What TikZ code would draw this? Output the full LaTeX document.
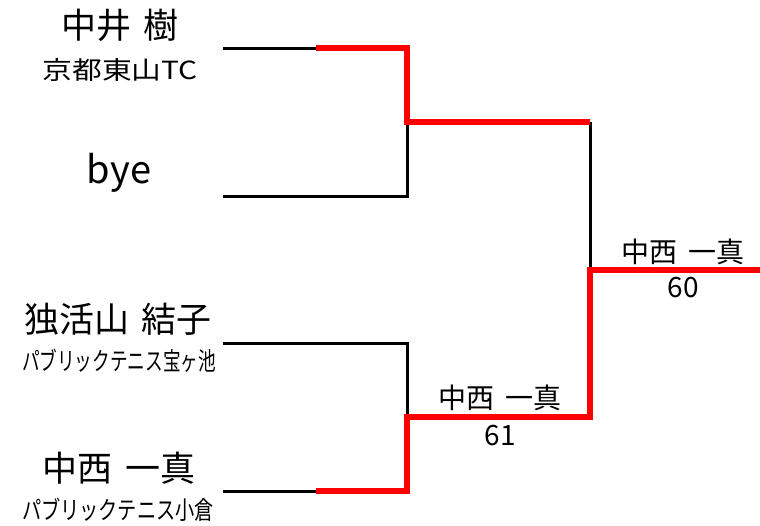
\documentclass[tikz,border=0pt]{standalone}
\usepackage{fontspec}
\usepackage{graphicx}
\setmainfont{Noto Sans CJK JP}
\begin{document}
\begin{tikzpicture}[x=1pt,y=-1pt,
  bigname/.style={inner sep=0pt,font=\fontsize{35}{38}\selectfont},
  club/.style={inner sep=0pt,font=\fontsize{25}{28}\selectfont},
  winner/.style={inner sep=0pt,font=\fontsize{28}{31}\selectfont},
  loseline/.style={line width=3pt,black,line join=miter,line cap=butt},
  winline/.style={line width=5.7pt,red,line join=miter,line cap=butt}]
\useasboundingbox (0,0) rectangle (760,525);
% player labels
\node[bigname] (n1) at (120,25) {中井\hspace{13pt}樹};
\node[club] (c1) at (120,70) {\resizebox{155pt}{\height}{京都東山TC}};
\node[bigname,font=\fontsize{38}{40}\selectfont] (n2) at (119,173) {bye};
\node[bigname] (n3) at (118,319) {独活山\hspace{13pt}結子};
\node[club] (c3) at (119,361) {\resizebox{194pt}{\height}{パブリックテニス宝ヶ池}};
\node[bigname] (n4) at (119,468) {中西\hspace{13pt}一真};
\node[club] (c4) at (118,510) {\resizebox{192pt}{\height}{パブリックテニス小倉}};
% winners
\node[winner] (w1) at (500,398) {中西\hspace{11pt}一真};
\node[winner] (s1) at (500,436) {61};
\node[winner] (w2) at (683,252) {中西\hspace{11pt}一真};
\node[winner] (s2) at (683,288) {60};
% bracket points
\coordinate (p1s) at (223,48);
\coordinate (p1m) at (316,48);
\coordinate (p1e) at (407,48);
\coordinate (p2s) at (223,196);
\coordinate (p2e) at (407,196);
\coordinate (m1) at (407,122);
\coordinate (m1e) at (590,122);
\coordinate (p3s) at (223,343);
\coordinate (p3e) at (407,343);
\coordinate (p4s) at (223,491);
\coordinate (p4m) at (316,491);
\coordinate (p4e) at (407,491);
\coordinate (m2) at (407,417);
\coordinate (m2e) at (590,417);
\coordinate (f) at (590,270);
\coordinate (fe) at (760,270);
% losing lines
\draw[loseline] (p1s) -- (p1m);
\draw[loseline] (p2s) -- (p2e) -- (m1);
\draw[loseline] (p3s) -- (p3e) -- (m2);
\draw[loseline] (p4s) -- (p4m);
\draw[loseline] (m1e) -- (f);
% winning lines
\draw[winline] (p1m) -- (p1e) -- (m1) -- (m1e);
\draw[winline] (p4m) -- (p4e) -- (m2) -- (m2e) -- (f) -- (fe);
\end{tikzpicture}
\end{document}
